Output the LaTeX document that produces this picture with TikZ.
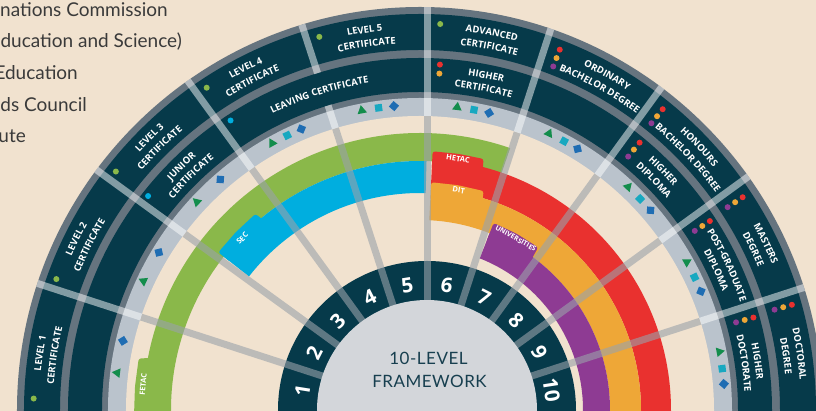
\documentclass[tikz,border=0pt]{standalone}
\usepackage{fontspec}
\setsansfont{Open Sans}
\newfontfamily\sidefont{Lato}
\usetikzlibrary{decorations.text,shapes.geometric}

\definecolor{paper}{HTML}{F1E2CF}
\definecolor{ringdark}{HTML}{063A4A}
\definecolor{ringgrey}{HTML}{66747F}
\definecolor{bandlight}{HTML}{BAC3CC}
\definecolor{hubgrey}{HTML}{D3D6DA}
\definecolor{fetacgreen}{HTML}{8AB84A}
\definecolor{secblue}{HTML}{00AEDF}
\definecolor{hetacred}{HTML}{E9312F}
\definecolor{ditorange}{HTML}{EEA737}
\definecolor{unipurple}{HTML}{8E3B93}
\definecolor{trigreen}{HTML}{138D4C}
\definecolor{sqteal}{HTML}{18A8C0}
\definecolor{diablue}{HTML}{1F6DB3}
\definecolor{spokegrey}{HTML}{9AA2AA}
\definecolor{titleteal}{HTML}{173F4F}
\definecolor{sidegrey}{HTML}{3A3A3A}

\tikzset{
    spoke/.style={line width=7,spokegrey,opacity=0.6},
    ringspoke/.style={line width=7,white,opacity=0.5},
    sidetext/.style={text=sidegrey,font=\sidefont\fontsize{19}{19}\selectfont,inner sep=0,anchor=base east},
    hubtitle/.style={text=titleteal,font=\sidefont\fontsize{17}{17}\selectfont\addfontfeature{LetterSpace=3},inner sep=0},
    tabtext/.style={white,font=\sffamily\bfseries\fontsize{7.5}{7.5}\selectfont,inner sep=0},
    levelnum/.style={white,font=\sffamily\bfseries\fontsize{20.5}{20.5}\selectfont,inner sep=0},
    trimark/.style={regular polygon,regular polygon sides=3,fill=trigreen,minimum size=11,inner sep=0},
    sqmark/.style={rectangle,fill=sqteal,minimum size=7.2,inner sep=0},
    diamark/.style={rectangle,fill=diablue,minimum size=7.2,inner sep=0},
}

\newcommand\ringfont{\sffamily\bfseries\fontsize{9.5}{9.5}\selectfont}
\newcommand\ringlabel[3]{%
    \path[decorate,decoration={text along path,text align=center,text color=white,
        text={|\ringfont|#3}}] (#1+20:#2) arc[start angle=#1+20,end angle=#1-20,radius=#2];}

\begin{document}
\begin{tikzpicture}[x=1pt,y=1pt]
    \useasboundingbox (-420,-1) rectangle (396,410);
    \clip (-420,-1) rectangle (396,410);
    \fill[paper] (-420,-1) rectangle (396,410);

    % names of the bodies, cut by the left edge
    \node[sidetext] (body1) at (-252,393) {nations Commission};
    \node[sidetext] (body2) at (-238,362) {ducation and Science)};
    \node[sidetext] (body3) at (-342,330) {Education};
    \node[sidetext] (body4) at (-333,298) {ds Council};
    \node[sidetext] (body5) at (-394,267) {ute};

    % award rings
    \fill[ringgrey] (0,0) circle (403);
    \fill[ringdark,even odd rule] (0,0) circle (396) (0,0) circle (360);
    \fill[ringdark,even odd rule] (0,0) circle (352) (0,0) circle (318);
    \fill[bandlight] (0,0) circle (312);
    \fill[paper] (0,0) circle (294);

    % awarding bodies
    \fill[fetacgreen] (181:277) arc[start angle=181,end angle=71,radius=277] -- (71:249) arc[start angle=71,end angle=181,radius=249] -- cycle;
    \fill[fetacgreen,rounded corners=2.5] (181:270) -- (181:286) -- (175.3:286) -- (169.6:286) -- (168.9:270) -- cycle;
    \node[tabtext,rotate=84.8] (fetac) at (174.8:278) {FETAC};

    \fill[secblue] (142:249) arc[start angle=142,end angle=88.5,radius=249] -- (88.5:217) arc[start angle=88.5,end angle=142,radius=217] -- cycle;
    \fill[secblue,rounded corners=2.5] (142:240) -- (142:256) -- (136:256) -- (130:256) -- (129.2:240) -- cycle;
    \node[tabtext,rotate=46] (sec) at (136:247) {SEC};

    \fill[hetacred] (87.2:251) arc[start angle=87.2,end angle=-3,radius=251] -- (-3:221) arc[start angle=-3,end angle=87.2,radius=221] -- cycle;
    \fill[hetacred,rounded corners=2.5] (87.2:240) -- (87.2:259) -- (81.5:259) -- (75.8:259) -- (75:240) -- cycle;
    \node[tabtext,rotate=-8.6] (hetac) at (81.4:254) {HETAC};

    \fill[ditorange] (87.2:221) arc[start angle=87.2,end angle=-3,radius=221] -- (-3:190) arc[start angle=-3,end angle=87.2,radius=190] -- cycle;
    \fill[ditorange,rounded corners=2.5] (87.2:210) -- (87.2:228) -- (80.5:228) -- (73.8:228) -- (73:210) -- cycle;
    \node[tabtext,rotate=-10] (dit) at (80:223) {DIT};

    \fill[unipurple] (68.5:190) arc[start angle=68.5,end angle=-3,radius=190] -- (-3:163) arc[start angle=-3,end angle=68.5,radius=163] -- cycle;
    \fill[unipurple,rounded corners=2.5] (68.5:180) -- (68.5:201) -- (61.3:201) -- (54:201) -- (53.2:180) -- cycle;
    \node[tabtext,rotate=-29.4,font=\sffamily\bfseries\fontsize{6.8}{6.8}\selectfont] (unis) at (60.8:196.5) {UNIVERSITIES};

    % ring of level numbers and the spokes
    \fill[ringdark] (7,0) circle (149);
    \begin{scope}[shift={(7,0)}]
        \foreach \a in {18,36,...,162}
            \draw[spoke] (\a:100) -- (\a:{294-7*cos(\a)});
        \foreach \a in {18,36,54,72,90,126,144,162}
            \draw[ringspoke] (\a:{294-7*cos(\a)}) -- (\a:{403-7*cos(\a)});
        \draw[ringspoke] (108:{294-7*cos(108)}) -- (108:{318-7*cos(108)});
        \draw[ringspoke] (108:{352-7*cos(108)}) -- (108:{403-7*cos(108)});
    \end{scope}
    \fill[hubgrey] (7,0) circle (110);
    \begin{scope}[shift={(7,0)}]
        \foreach \n in {1,...,10}
            \node[levelnum,rotate=99-18*\n] (level\n) at (189-18*\n:126) {\n};
    \end{scope}
    \node[hubtitle] (title1) at (8.5,51.5) {10-LEVEL};
    \node[hubtitle] (title2) at (9.5,29) {FRAMEWORK};

    % triangle, square, diamond in the light band
    \foreach \n in {1,...,10}{
        \pgfmathsetmacro\st{198-18*\n}
        \node[trimark,rotate=\st-97] (tri\n) at (\st-7:305) {};
        \node[diamark,rotate=\st-58.1] (dia\n) at (\st-13.1:305) {};
    }
    \foreach \n in {4,...,10}{
        \pgfmathsetmacro\st{198-18*\n}
        \node[sqmark,rotate=\st-100.2] (sq\n) at (\st-10.2:305) {};
    }

    % dots of the awarding bodies
    \foreach \a in {178.3,160.2,141.9,123.5,105.1,87}
        \fill[fetacgreen] (\a:386.5) circle (3);
    \foreach \a in {141.8,123.2}
        \fill[secblue] (\a:346) circle (3);
    \foreach \a in {68.8,51.1,33.4,15.8}{
        \fill[hetacred] (\a:386.5) circle (3);
        \fill[ditorange] (\a:377.5) circle (3);
        \fill[unipurple] (\a:368.5) circle (3);
    }
    \fill[hetacred] (86.7:346) circle (3);
    \fill[ditorange] (86.7:337) circle (3);
    \foreach \a in {50.6,33.1,15.5}{
        \fill[hetacred] (\a:346) circle (3);
        \fill[ditorange] (\a:337) circle (3);
        \fill[unipurple] (\a:328) circle (3);
    }

    % outer ring
    \ringlabel{171.5}{381}{LEVEL 1}
    \ringlabel{171.5}{367}{CERTIFICATE}
    \ringlabel{153.5}{381}{LEVEL 2}
    \ringlabel{153.5}{367}{CERTIFICATE}
    \ringlabel{134.8}{381}{LEVEL 3}
    \ringlabel{134.8}{367}{CERTIFICATE}
    \ringlabel{117}{381}{LEVEL 4}
    \ringlabel{117}{367}{CERTIFICATE}
    \ringlabel{98.3}{381}{LEVEL 5}
    \ringlabel{98.3}{367}{CERTIFICATE}
    \ringlabel{79.2}{381}{ADVANCED}
    \ringlabel{79.2}{367}{CERTIFICATE}
    \ringlabel{60.8}{381}{ORDINARY}
    \ringlabel{60.8}{367}{BACHELOR DEGREE}
    \ringlabel{43.3}{381}{HONOURS}
    \ringlabel{43.3}{367}{BACHELOR DEGREE}
    \ringlabel{25.7}{381}{MASTERS}
    \ringlabel{25.7}{367}{DEGREE}
    \ringlabel{8.4}{381}{DOCTORAL}
    \ringlabel{8.4}{367}{DEGREE}

    % inner ring
    \ringlabel{134.4}{338}{JUNIOR}
    \ringlabel{134.4}{325}{CERTIFICATE}
    \ringlabel{107.7}{331}{LEAVING CERTIFICATE}
    \ringlabel{78.8}{338}{HIGHER}
    \ringlabel{78.8}{325}{CERTIFICATE}
    \ringlabel{44.5}{338}{HIGHER}
    \ringlabel{44.5}{325}{DIPLOMA}
    \ringlabel{25.3}{338}{POST-GRADUATE}
    \ringlabel{25.3}{325}{DIPLOMA}
    \ringlabel{8.2}{338}{HIGHER}
    \ringlabel{8.2}{325}{DOCTORATE}
\end{tikzpicture}
\end{document}
